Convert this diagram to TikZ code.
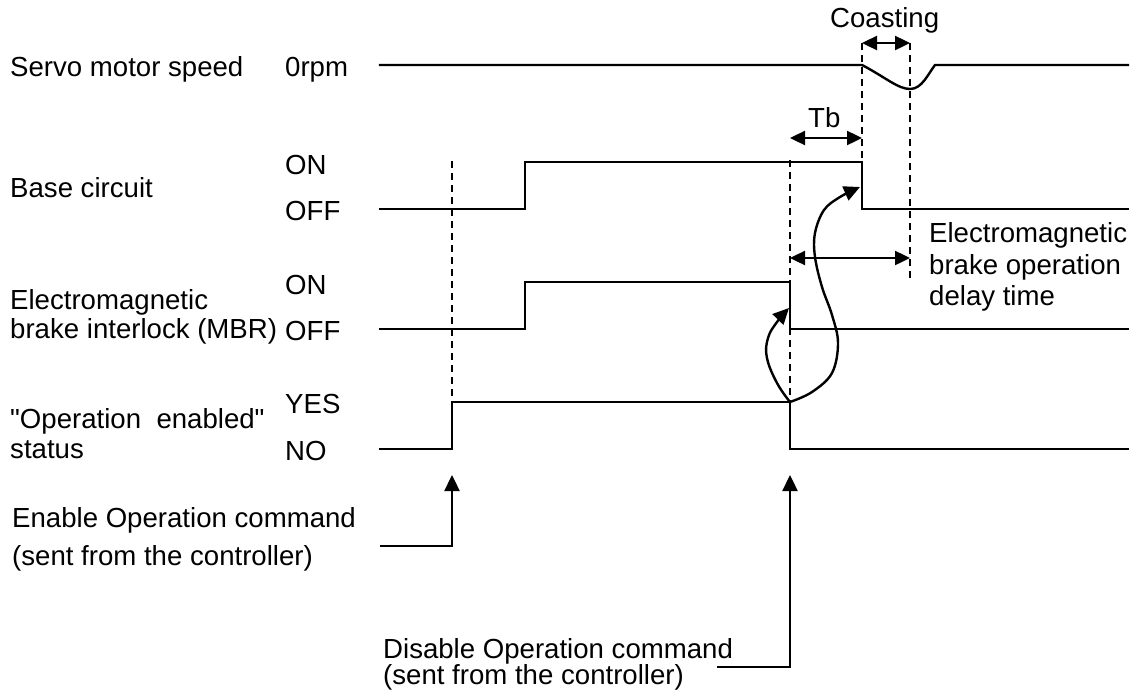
\documentclass[tikz,border=0pt]{standalone}
\usepackage{fontspec}
\setmainfont{Liberation Sans}
\newfontfamily\rawfont{Liberation Sans}[Ligatures=TeXOff]
\usetikzlibrary{arrows.meta}
\begin{document}
\begin{tikzpicture}[x=1pt,y=-1pt,
  lbl/.style={anchor=base west, inner sep=0pt, font=\fontsize{27.6}{30}\selectfont},
  wave/.style={line width=2.4pt, line join=miter, line cap=rect},
  guide/.style={line width=1.7pt, dash pattern=on 7pt off 5pt},
  tip/.style={line width=2.4pt, -{Triangle[length=16pt,width=15pt]}},
  dim/.style={line width=2.4pt, {Triangle[length=15pt,width=14pt]}-{Triangle[length=15pt,width=14pt]}},
]
\useasboundingbox[fill=white] (0,0) rectangle (1138,691);

% ---- labels (left) ----
\node[lbl] (tServo) at (10,76.7) {Servo motor speed};
\node[lbl] (tRpm) at (285,76.7) {0rpm};
\node[lbl] (tBase) at (10,197.7) {Base circuit};
\node[lbl] (tBon) at (285,174) {ON};
\node[lbl] (tBoff) at (285,220) {OFF};
\node[lbl] (tEm1) at (10,309) {Electromagnetic};
\node[lbl] (tEm2) at (10,338) {brake interlock (MBR)};
\node[lbl] (tMon) at (285,294) {ON};
\node[lbl] (tMoff) at (285,340) {OFF};
\node[lbl] (tOp1) at (10,428) {\rawfont "Operation\ \ enabled"};
\node[lbl] (tOp2) at (10,458) {status};
\node[lbl] (tYes) at (285,413) {YES};
\node[lbl] (tNo) at (285,460) {NO};
\node[lbl] (tEn1) at (12,527) {Enable Operation command};
\node[lbl] (tEn2) at (12,565) {(sent from the controller)};
\node[lbl] (tDis1) at (383,658) {Disable Operation command};
\node[lbl] (tDis2) at (383,684) {(sent from the controller)};
\node[lbl] (tCoast) at (830,27) {Coasting};
\node[lbl] (tTb) at (808,127) {Tb};
\node[lbl] (tDl1) at (929,242) {Electromagnetic};
\node[lbl] (tDl2) at (929,274) {brake operation};
\node[lbl] (tDl3) at (929,305) {delay time};

% ---- key coordinates ----
\coordinate (sA) at (380,65);
\coordinate (sB) at (862,65);
\coordinate (sMin) at (910,89);
\coordinate (sC) at (935,65);
\coordinate (sD) at (1128,65);

\coordinate (bA) at (380,209);
\coordinate (bB) at (525,209);
\coordinate (bC) at (525,162);
\coordinate (bD) at (862,162);
\coordinate (bE) at (862,209);
\coordinate (bF) at (1128,209);

\coordinate (mA) at (380,329);
\coordinate (mB) at (525,329);
\coordinate (mC) at (525,282);
\coordinate (mD) at (790,282);
\coordinate (mE) at (790,329);
\coordinate (mF) at (1128,329);

\coordinate (oA) at (380,449);
\coordinate (oB) at (452,449);
\coordinate (oC) at (452,402);
\coordinate (oD) at (790,402);
\coordinate (oE) at (790,449);
\coordinate (oF) at (1128,449);

% ---- waveforms ----
\draw[wave] (sA) -- (sB) .. controls (885,77) and (898,89) .. (sMin)
  .. controls (922,89) and (928,74) .. (sC) -- (sD);
\draw[wave] (bA) -- (bB) -- (bC) -- (bD) -- (bE) -- (bF);
\draw[wave] (mA) -- (mB) -- (mC) -- (mD) -- (mE) -- (mF);
\draw[wave] (oA) -- (oB) -- (oC) -- (oD) -- (oE) -- (oF);

% ---- dashed guides ----
\coordinate (g1t) at (452,161);
\coordinate (g2t) at (790,160);
\coordinate (g3t) at (862,43);
\coordinate (g4t) at (910,43);
\coordinate (g4b) at (910,282);
\draw[guide] (g1t) -- (oC);
\draw[guide] (g2t) -- (oD);
\draw[guide] (g3t) -- (bD);
\draw[guide] (g4t) -- (g4b);

% ---- dimension arrows ----
\coordinate (cL) at (862,43);
\coordinate (cR) at (910,43);
\draw[dim] (cL) -- (cR);
\coordinate (tbL) at (790,138);
\coordinate (tbR) at (862,138);
\draw[dim] (tbL) -- (tbR);
\coordinate (dlL) at (790,258);
\coordinate (dlR) at (910,258);
\draw[dim] (dlL) -- (dlR);

% ---- causal curved arrows ----
\draw[tip] plot[smooth, tension=0.7] coordinates
  {(790,402) (777,383) (767,358) (768,338) (777,322) (789,308)};
\draw[tip] plot[smooth, tension=0.6] coordinates
  {(790,402) (812,392) (832,373) (838,343) (832,315) (822,287) (815,257) (815,233) (824,210) (840,197) (860,187)};

% ---- command arrows ----
\coordinate (eA) at (380,546);
\coordinate (eB) at (452,546);
\coordinate (eT) at (452,475);
\draw[tip] (eA) -- (eB) -- (eT);
\coordinate (dA) at (717,667);
\coordinate (dB) at (790,667);
\coordinate (dT) at (790,475);
\draw[tip] (dA) -- (dB) -- (dT);
\end{tikzpicture}
\end{document}
